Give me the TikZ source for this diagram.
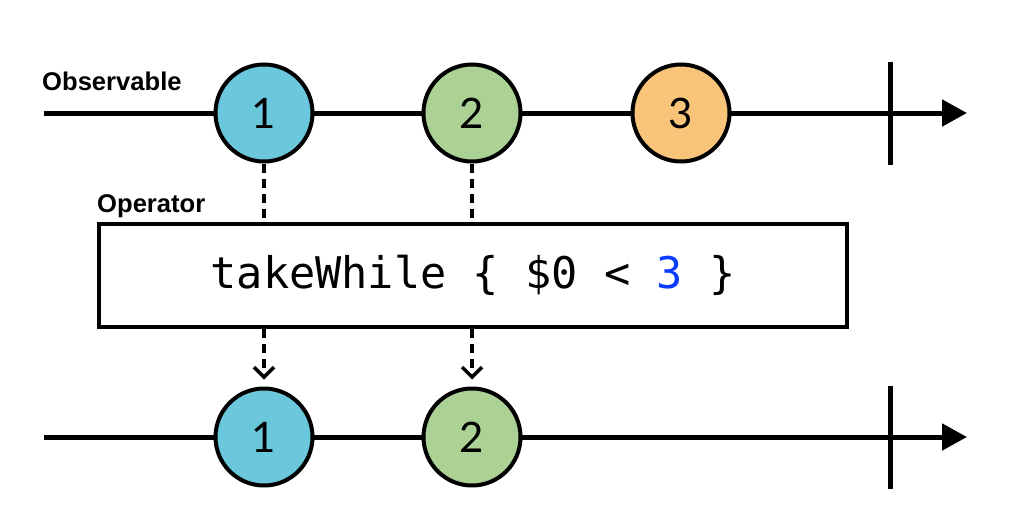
\documentclass[tikz,border=0pt]{standalone}
\usepackage{fontspec}
\setmainfont{Liberation Sans}
\newfontfamily\monofnt{DejaVu Sans Mono}
\newfontfamily\numfnt{Lato}
\usetikzlibrary{arrows.meta}
\definecolor{cblue}{HTML}{6BC7DC}
\definecolor{cgreen}{HTML}{ACD194}
\definecolor{corange}{HTML}{F8C47A}
\definecolor{kwblue}{RGB}{10,60,255}
\tikzset{
  timeline/.style={line width=5pt,-{Triangle[length=25pt,width=26pt]}},
  endbar/.style={line width=5pt},
  marble/.style={circle,draw,line width=4pt,minimum size=97pt,inner sep=0pt,font=\numfnt\fontsize{42}{46}\selectfont},
  lbl/.style={font=\bfseries\fontsize{25.6}{28}\selectfont,anchor=base west,inner sep=0pt},
  opbox/.style={draw,line width=4pt,minimum width=748pt,minimum height=103pt,inner sep=0pt,font=\monofnt\fontsize{43.6}{50}\selectfont},
  flow/.style={line width=3.5pt,dash pattern=on 9pt off 6pt},
  flowarrow/.style={flow,-{Straight Barb[length=10pt,width=20pt]}}
}
\begin{document}
\begin{tikzpicture}[x=1pt,y=-1pt]
\useasboundingbox (0,0) rectangle (1022,522);
% top timeline
\coordinate (ts) at (44,113);
\coordinate (te) at (967,113);
\draw[timeline] (ts) -- (te);
\coordinate (tb1) at (890,62);
\coordinate (tb2) at (890,165);
\draw[endbar] (tb1) -- (tb2);
\node[marble,fill=cblue] (a1) at (264,113) {1};
\node[marble,fill=cgreen] (a2) at (472,113) {2};
\node[marble,fill=corange] (a3) at (681,113) {3};
\node[lbl] (obs) at (42,90) {Observable};
% operator
\node[opbox] (op) at (473,275.5) {takeWhile \{ \$0 < {\color{kwblue}3} \}};
\node[lbl] (opl) at (97,212) {Operator};
% bottom timeline
\coordinate (bs) at (44,437);
\coordinate (be) at (967,437);
\draw[timeline] (bs) -- (be);
\coordinate (bb1) at (890,386);
\coordinate (bb2) at (890,489);
\draw[endbar] (bb1) -- (bb2);
\node[marble,fill=cblue] (b1) at (264,437) {1};
\node[marble,fill=cgreen] (b2) at (472,437) {2};
% flows
\draw[flow] (a1.south) -- (a1.south |- op.north);
\draw[flow] (a2.south) -- (a2.south |- op.north);
\draw[flowarrow] (op.south -| b1) -- ([yshift=7pt]b1.north);
\draw[flowarrow] (op.south -| b2) -- ([yshift=7pt]b2.north);
\end{tikzpicture}
\end{document}
